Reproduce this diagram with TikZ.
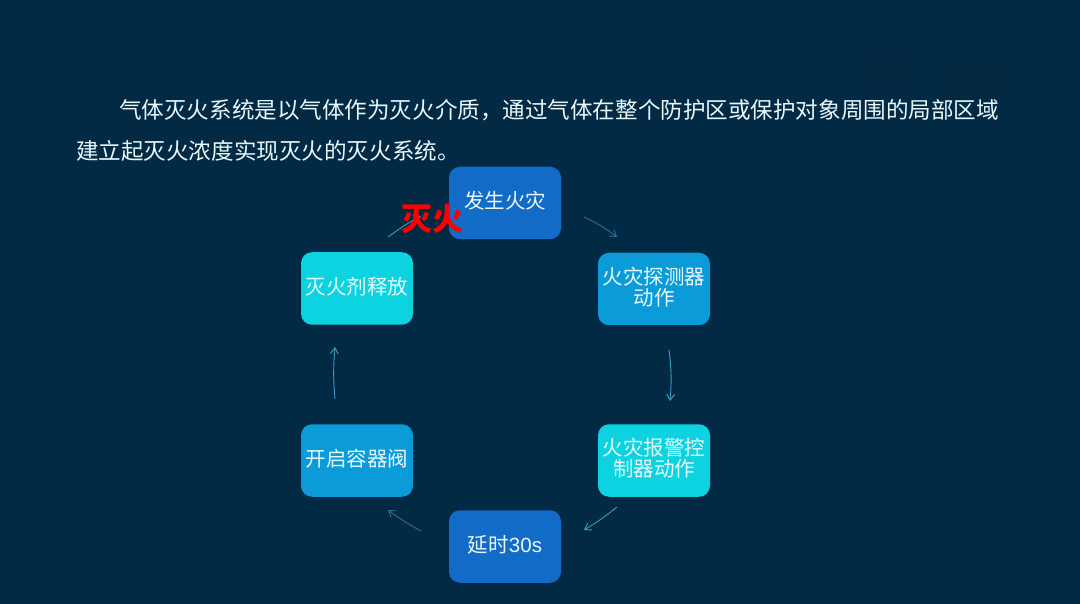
\documentclass[tikz,border=0pt]{standalone}
\usepackage{fontspec}
\setmainfont{Noto Sans CJK SC}
\newfontfamily\latinf{Liberation Sans}
\usetikzlibrary{arrows.meta}
\newcommand\liftup[1]{\raisebox{2pt}[\height][\depth]{#1}}
\definecolor{bgc}{HTML}{032A45}
\definecolor{wmk}{HTML}{02243C}
\definecolor{blueA}{HTML}{126BC6}
\definecolor{blueB}{HTML}{0A9BD8}
\definecolor{cyanA}{HTML}{0CD3DF}
\definecolor{txtc}{HTML}{E8F8FB}
\definecolor{arrA}{HTML}{2A6E9E}
\definecolor{arrB}{HTML}{3E9CC4}
\definecolor{arrC}{HTML}{35A3AE}
\tikzset{
  x=1pt,y=-1pt,
  flowbox/.style={rounded corners=11pt,minimum width=112pt,minimum height=72.5pt,inner sep=0pt,
    text=txtc,align=center,font=\fontsize{20.5}{22}\selectfont,anchor=center},
  para/.style={text=txtc,anchor=base west,inner sep=0pt,font=\fontsize{22.56}{26}\selectfont},
  flow/.style={-{Straight Barb[length=6pt,width=8pt]},line width=0.9pt},
  smudge/.style={fill=wmk,opacity=0.3,rounded corners=6pt}
}
\begin{document}
\begin{tikzpicture}
\useasboundingbox (0,0) rectangle (1080,604);
\fill[bgc] (0,0) rectangle (1080,604);
\fill[smudge] (853,50) rectangle (915,92);
\fill[smudge] (940,55) rectangle (1015,95);
\node[para] (l1) at (119,119) {气体灭火系统是以气体作为灭火介质，通过气体在整个防护区或保护对象周围的局部区域};
\node[para] (l2) at (76,160) {建立起灭火浓度实现灭火的灭火系统。};
\node[flowbox,fill=blueA] (a) at (505,203) {\liftup{发生火灾}};
\node[flowbox,fill=blueB] (b) at (654,289) {\liftup{火灾探测器}\\[-1pt]\liftup{动作}};
\node[flowbox,fill=cyanA] (c) at (654,460.5) {\liftup{火灾报警控}\\[-1pt]\liftup{制器动作}};
\node[flowbox,fill=blueA] (d) at (505,546.5) {\liftup{延时{\latinf 30s}}};
\node[flowbox,fill=blueB] (e) at (357,460.5) {\liftup{开启容器阀}};
\node[flowbox,fill=cyanA] (f) at (357,288.5) {\liftup{灭火剂释放}};
\coordinate (ab1) at (584,217); \coordinate (ab2) at (617,237);
\coordinate (bc1) at (669,350); \coordinate (bc2) at (670,401);
\coordinate (cd1) at (617,507); \coordinate (cd2) at (584,530);
\coordinate (de1) at (421,531); \coordinate (de2) at (388,510);
\coordinate (ef1) at (335,399); \coordinate (ef2) at (335,347);
\coordinate (fa1) at (388,237); \coordinate (fa2) at (421,216);
\draw[flow,arrA] (ab1) to[bend left=6] (ab2);
\draw[flow,arrB] (bc1) to[bend left=6] (bc2);
\draw[flow,arrC] (cd1) to[bend left=4] (cd2);
\draw[flow,arrA] (de1) to[bend left=4] (de2);
\draw[flow,arrB] (ef1) to[bend left=5] (ef2);
\draw[flow,arrC] (fa1) to[bend left=4] (fa2);
\node[text=red,inner sep=0pt,font=\fontsize{31}{33}\bfseries\selectfont] (t) at (432,218.5) {灭火};
\end{tikzpicture}
\end{document}
